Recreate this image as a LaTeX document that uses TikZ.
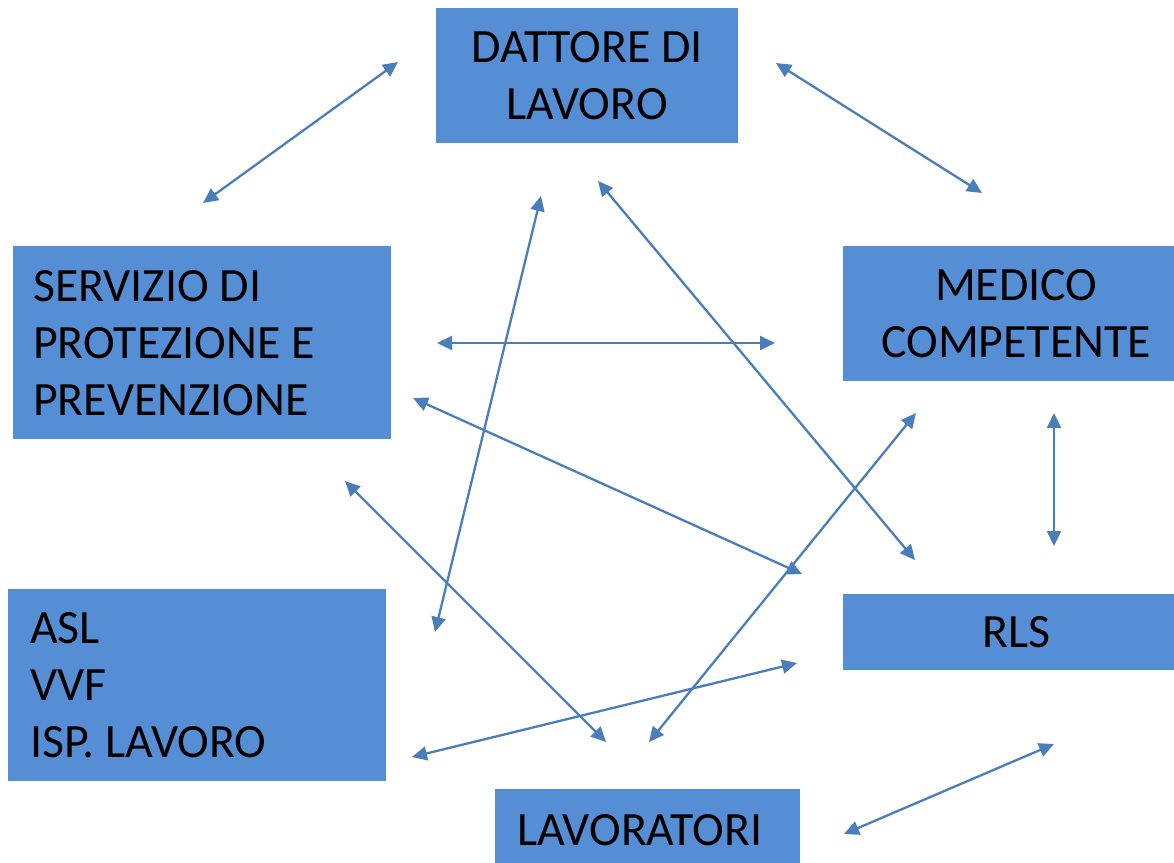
\documentclass[tikz,border=0pt]{standalone}
\usepackage{fontspec}
\setmainfont{Carlito}
\frenchspacing
\usetikzlibrary{arrows.meta}
\definecolor{boxblue}{HTML}{558ED5}
\definecolor{arrowblue}{HTML}{4A7EBB}
\tikzset{
  box/.style={fill=boxblue, draw=none, inner ysep=0pt, anchor=north west,
    font=\fontsize{47.8}{57}\selectfont, text=black},
  cbox/.style={box, align=center, inner xsep=0pt},
  lbox/.style={box, align=left, inner xsep=20pt,
    execute at begin node={\spaceskip=0pt\xspaceskip=0pt\relax}},
  link/.style={draw=arrowblue, line width=2.3pt,
    {Triangle[length=15pt,width=14pt]}-{Triangle[length=15pt,width=14pt]}}
}
\begin{document}
\begin{tikzpicture}[x=1pt,y=-1pt]
\useasboundingbox (0,0) rectangle (1174,862);
% boxes
\node[cbox, minimum width=302pt, minimum height=135pt] (dl) at (436,8) {DATTORE DI\\LAVORO};
\node[lbox, text width=338pt, minimum height=193pt] (spp) at (13,246) {SERVIZIO DI\\PROTEZIONE E\\PREVENZIONE};
\node[cbox, minimum width=346pt, minimum height=135pt] (mc) at (843,246) {MEDICO\\COMPETENTE};
\node[cbox, minimum width=346pt, minimum height=76pt] (rls) at (843,594) {RLS};
\node[lbox, inner xsep=22pt, text width=334pt, minimum height=192pt] (asl) at (8,589) {ASL\\VVF\\ISP. LAVORO};
\node[lbox, inner xsep=22pt, text width=261pt, minimum height=82pt] (lav) at (495,789) {LAVORATORI};
% arrow end points
\coordinate (a1) at (398,62);   \coordinate (b1) at (203,203);
\coordinate (a2) at (776,63);   \coordinate (b2) at (982,193);
\coordinate (a3) at (598,181);  \coordinate (b3) at (915,560);
\coordinate (a4) at (541,196);  \coordinate (b4) at (435,632);
\coordinate (a5) at (437,343);  \coordinate (b5) at (775,343);
\coordinate (a6) at (413,398);  \coordinate (b6) at (802,574);
\coordinate (a7) at (345,481);  \coordinate (b7) at (606,742);
\coordinate (a8) at (916,413);  \coordinate (b8) at (649,742);
\coordinate (a9) at (797,663);  \coordinate (b9) at (412,757);
\coordinate (a10) at (1054,413); \coordinate (b10) at (1054,546);
\coordinate (a11) at (1054,744); \coordinate (b11) at (844,834);
\foreach \i in {1,...,11} { \draw[link] (a\i) -- (b\i); }
\end{tikzpicture}
\end{document}
